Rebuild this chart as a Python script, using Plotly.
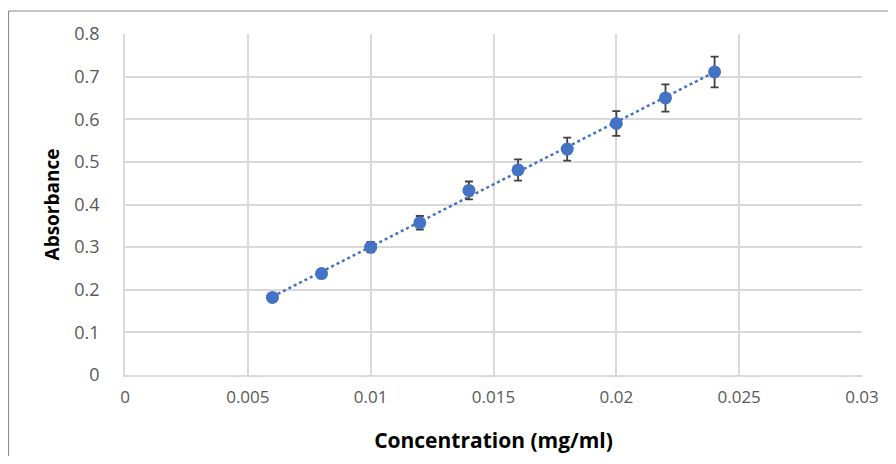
import numpy as np
import plotly.graph_objects as go

concentration = [0.006, 0.008, 0.010, 0.012, 0.014, 0.016, 0.018, 0.020, 0.022, 0.024]
absorbance = [0.182, 0.238, 0.300, 0.357, 0.433, 0.481, 0.530, 0.590, 0.650, 0.711]
error = [0.005, 0.008, 0.012, 0.016, 0.021, 0.025, 0.027, 0.029, 0.032, 0.036]
x_ticks = [0, 0.005, 0.01, 0.015, 0.02, 0.025, 0.03]
x_tick_labels = ["0", "0.005", "0.01", "0.015", "0.02", "0.025", "0.03"]
y_ticks = [0, 0.1, 0.2, 0.3, 0.4, 0.5, 0.6, 0.7, 0.8]
y_tick_labels = ["0", "0.1", "0.2", "0.3", "0.4", "0.5", "0.6", "0.7", "0.8"]

slope, intercept = np.polyfit(concentration, absorbance, 1)
trend_x = [concentration[0], concentration[-1]]
trend_y = [slope * v + intercept for v in trend_x]

fig = go.Figure()
fig.add_trace(go.Scatter(
    x=trend_x, y=trend_y, mode="lines",
    line=dict(color="#4472C4", width=2.5, dash="dot"),
    showlegend=False, hoverinfo="skip"))
fig.add_trace(go.Scatter(
    x=concentration, y=absorbance, mode="markers",
    marker=dict(color="#4472C4", size=13),
    error_y=dict(type="data", array=error, visible=True, color="#404040", thickness=1.8, width=4),
    showlegend=False))

# page body has an 8px margin, so the figure is 880x448 starting at (8, 8)
W, H = 880, 448
L, R, T, B = 117, 26, 26, 81
pw, ph = W - L - R, H - T - B

def px(x):
    return (x - L) / pw

def py(y):
    return (H - B - y) / ph

fig.add_shape(type="line", xref="paper", yref="paper",
              x0=px(0.5), x1=px(W), y0=py(3), y1=py(3),
              line=dict(color="#8c8c8c", width=1.2))
fig.add_shape(type="line", xref="paper", yref="paper",
              x0=px(0.5), x1=px(0.5), y0=py(3), y1=py(H),
              line=dict(color="#8c8c8c", width=1.2))

font_family = "Open Sans, Noto Sans, sans-serif"
fig.update_layout(
    width=W, height=H,
    margin=dict(l=L, r=R, t=T, b=B),
    paper_bgcolor="white", plot_bgcolor="white",
    font=dict(family=font_family, color="#595959", size=16),
    xaxis=dict(
        range=[0, 0.03], tickvals=x_ticks, ticktext=x_tick_labels,
        showgrid=True, gridcolor="#d9d9d9", gridwidth=1.5,
        zeroline=False, showline=True, linecolor="#d9d9d9", linewidth=1.5,
        ticks="", ticklabelstandoff=6, automargin=False,
        tickfont=dict(size=17, color="#595959"),
        title=dict(text="<b>Concentration (mg/ml)</b>", font=dict(size=21, color="#000000"), standoff=26),
        mirror=False),
    yaxis=dict(
        range=[0, 0.8], tickvals=y_ticks, ticktext=y_tick_labels,
        showgrid=True, gridcolor="#d9d9d9", gridwidth=1.5,
        zeroline=False, showline=True, linecolor="#d9d9d9", linewidth=1.5,
        ticks="", ticklabelstandoff=20, automargin=False,
        tickfont=dict(size=18, color="#595959"),
        title=dict(text="<b>Absorbance</b>", font=dict(size=19, color="#000000"), standoff=10)),
)
fig.write_html("out.html")
